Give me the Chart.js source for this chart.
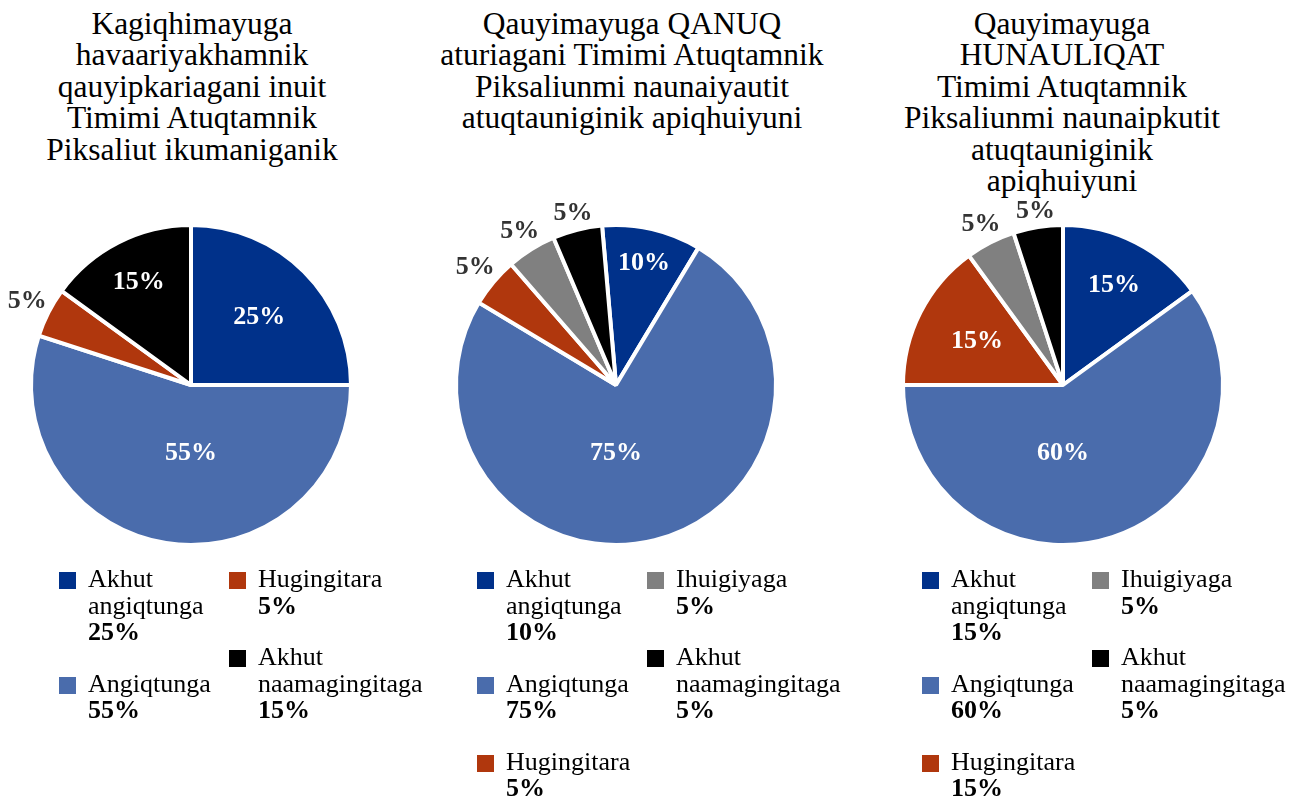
<!DOCTYPE html>
<html>
<head>
<meta charset="utf-8">
<script src="https://cdn.jsdelivr.net/npm/chart.js@4"></script>
<style>
  body { margin: 0; background: #fff; }
  #wrap { position: relative; width: 1299px; height: 806px; overflow: hidden; font-family: "Liberation Serif", "Times New Roman", serif; }
  .title { position: absolute; width: 440px; text-align: center; font-size: 31.5px; line-height: 31.5px; color: #000; white-space: nowrap; }
  .pie { position: absolute; width: 400px; height: 400px; }
  .legend { position: absolute; top: 566px; display: flex; }
  .col { display: flex; flex-direction: column; }
  .item { display: flex; margin-bottom: 25px; }
  .box { width: 17px; height: 17px; margin-top: 6px; margin-right: 12px; flex: none; }
  .txt { font-size: 26px; line-height: 26.5px; color: #000; }
  .txt b { display: block; }
</style>
</head>
<body>
<div id="wrap"></div>
<script>
  // titles, one entry per line
  const titles = [
    ['Kagiqhimayuga', 'havaariyakhamnik', 'qauyipkariagani inuit', 'Timimi Atuqtamnik', 'Piksaliut ikumaniganik'],
    ['Qauyimayuga QANUQ', 'aturiagani Timimi Atuqtamnik', 'Piksaliunmi naunaiyautit', 'atuqtauniginik apiqhuiyuni'],
    ['Qauyimayuga', 'HUNAULIQAT', 'Timimi Atuqtamnik', 'Piksaliunmi naunaipkutit', 'atuqtauniginik', 'apiqhuiyuni']
  ];

  const labels1 = ['Akhut angiqtunga', 'Angiqtunga', 'Hugingitara', 'Akhut naamagingitaga'];
  const values1 = [25, 55, 5, 15];

  const labels2 = ['Akhut angiqtunga', 'Angiqtunga', 'Hugingitara', 'Ihuigiyaga', 'Akhut naamagingitaga'];
  const values2 = [10, 75, 5, 5, 5];

  const labels3 = ['Akhut angiqtunga', 'Angiqtunga', 'Hugingitara', 'Ihuigiyaga', 'Akhut naamagingitaga'];
  const values3 = [15, 60, 15, 5, 5];

  const colorOf = {
    'Akhut angiqtunga': '#00318a',
    'Angiqtunga': '#4a6cac',
    'Hugingitara': '#b0370d',
    'Ihuigiyaga': '#808080',
    'Akhut naamagingitaga': '#000000'
  };

  // layout of each panel; labelR = where the inside labels sit (fraction of radius), 0 = outside
  const panels = [
    { labels: labels1, values: values1, titleX: 192, pieX: 191, legendX: 59, rotation: 0, labelR: [0.61, 0.43, 0, 0.73] },
    { labels: labels2, values: values2, titleX: 632, pieX: 616, legendX: 477, rotation: -5, labelR: [0.79, 0.43, 0, 0, 0] },
    { labels: labels3, values: values3, titleX: 1062, pieX: 1063, legendX: 922, rotation: 0, labelR: [0.71, 0.43, 0.61, 0, 0] }
  ];
  const pieY = 385;
  const R = 158;

  // percentage labels: big ones inside, small ones outside
  const pctLabels = {
    id: 'pctLabels',
    afterDatasetsDraw(chart, args, opts) {
      const ctx = chart.ctx;
      const meta = chart.getDatasetMeta(0);
      const vals = chart.data.datasets[0].data;
      ctx.save();
      ctx.font = 'bold 26px "Liberation Serif", serif';
      ctx.textAlign = 'center';
      ctx.textBaseline = 'middle';
      meta.data.forEach((arc, i) => {
        const p = arc.getProps(['x', 'y', 'startAngle', 'endAngle'], true);
        const txt = vals[i] + '%';
        let a = (p.startAngle + p.endAngle) / 2;
        const f = opts.labelR[i];
        let r;
        if (f > 0) {
          if (f < 0.5 && p.startAngle <= Math.PI / 2 && p.endAngle >= Math.PI / 2) a = Math.PI / 2;
          r = R * f;
          ctx.fillStyle = '#ffffff';
        } else {
          const w = ctx.measureText(txt).width;
          r = R + 3 + Math.abs(Math.cos(a)) * w / 2 + Math.abs(Math.sin(a)) * 12;
          ctx.fillStyle = '#333333';
        }
        ctx.fillText(txt, p.x + Math.cos(a) * r, p.y + Math.sin(a) * r);
      });
      ctx.restore();
    }
  };

  const wrap = document.getElementById('wrap');

  panels.forEach((pn, k) => {
    const t = document.createElement('div');
    t.className = 'title';
    t.style.left = (pn.titleX - 220) + 'px';
    t.style.top = '7.5px';
    t.innerHTML = titles[k].join('<br>');
    wrap.appendChild(t);

    const c = document.createElement('canvas');
    c.className = 'pie';
    c.width = 400; c.height = 400;
    c.style.left = (pn.pieX - 200) + 'px';
    c.style.top = (pieY - 200) + 'px';
    wrap.appendChild(c);

    new Chart(c, {
      type: 'pie',
      data: {
        labels: pn.labels,
        datasets: [{
          data: pn.values,
          backgroundColor: pn.labels.map(l => colorOf[l]),
          borderColor: '#ffffff',
          borderWidth: 4,
          hoverOffset: 0
        }]
      },
      options: {
        responsive: false,
        animation: false,
        radius: R + 2,
        rotation: pn.rotation,
        plugins: {
          legend: { display: false },
          tooltip: { enabled: false },
          pctLabels: { labelR: pn.labelR }
        }
      },
      plugins: [pctLabels]
    });

    // legend, filled column by column
    const lg = document.createElement('div');
    lg.className = 'legend';
    lg.style.left = pn.legendX + 'px';
    const perCol = Math.ceil(pn.labels.length / 2);
    [0, 1].forEach(ci => {
      const col = document.createElement('div');
      col.className = 'col';
      col.style.width = ci === 0 ? '170px' : '210px';
      pn.labels.slice(ci * perCol, (ci + 1) * perCol).forEach((l, j) => {
        const idx = ci * perCol + j;
        const it = document.createElement('div');
        it.className = 'item';
        it.innerHTML = '<div class="box" style="background:' + colorOf[l] + '"></div>' +
          '<div class="txt" style="width:' + (ci === 0 ? 135 : 175) + 'px">' + l + '<b>' + pn.values[idx] + '%</b></div>';
        col.appendChild(it);
      });
      lg.appendChild(col);
    });
    wrap.appendChild(lg);
  });
</script>
</body>
</html>
